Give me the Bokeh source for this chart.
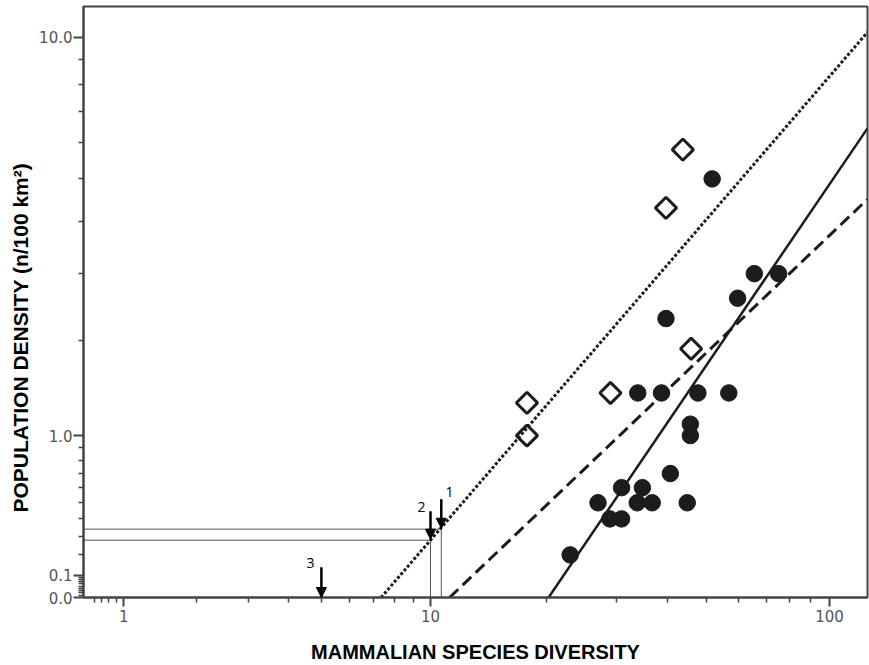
import numpy as np
from bokeh.plotting import figure
from bokeh.models import (FixedTicker, CustomJSTickFormatter, Range1d, Arrow,
                          NormalHead, Title, ColumnDataSource)
from bokeh.embed import file_html
from bokeh.resources import INLINE
from bokeh.core.properties import value

# ---------------- data ----------------
circle_x = [51.6, 39.7, 65.5, 75.1, 59.6, 33.8, 38.7, 47.6, 56.7, 45.6, 45.6,
            40.7, 30.8, 34.7, 26.9, 33.7, 36.7, 44.8, 28.8, 30.8, 22.9]
circle_y = [5.0, 2.3, 3.0, 3.0, 2.6, 1.4, 1.4, 1.4, 1.4, 1.1, 1.0,
            0.7, 0.6, 0.6, 0.5, 0.5, 0.5, 0.5, 0.4, 0.4, 0.2]

diamond_x = [43.7, 39.7, 45.8, 28.9, 17.8, 17.8]
diamond_y = [5.8, 4.3, 1.9, 1.4, 1.3, 1.0]

# regression lines (end points)
dotted_x = [7.36, 123.7]
dotted_y = [0.0, 10.24]
solid_x = [20.2, 123.7]
solid_y = [0.0, 6.45]
dashed_x = [11.23, 123.7]
dashed_y = [0.0, 4.50]

# guide lines
guide_x0 = [0.6, 0.6, 10.0, 10.68]
guide_y0 = [0.34, 0.278, 0.0, 0.0]
guide_x1 = [10.68, 10.0, 10.0, 10.68]
guide_y1 = [0.34, 0.278, 0.278, 0.34]

# arrows
arrow_x = [10.68, 10.0, 5.0]
arrow_y_start = [0.523, 0.447, 0.138]
arrow_y_end = [0.345, 0.283, 0.0]
arrow_text = ["1", "2", "3"]
arrow_text_x = [11.23, 9.47, 4.65]
arrow_text_y = [0.570, 0.472, 0.158]

# axes
x_major = [1, 10, 100]
x_minor = [0.7, 0.77, 0.84, 0.92, 2, 3, 4, 5, 6, 7, 8, 9,
           20, 30, 40, 50, 60, 70, 80, 90]
y_major = [0.0, 0.1, 1.0, 10.0]
y_minor = [0.01, 0.02, 0.03, 0.04, 0.05, 0.06, 0.07, 0.08, 0.09,
           0.2, 0.3, 0.4, 0.5, 0.6, 0.7, 0.8, 0.9,
           2, 3, 4, 5, 6, 7, 8, 9]
x_lo, x_hi = 0.6, 123.7
y_lo, y_hi = 0.0, 11.55

x_title = "MAMMALIAN SPECIES DIVERSITY"
y_title = "POPULATION DENSITY (n/100 km\u00b2)"


def tf(v):
    return np.log10(np.asarray(v, dtype=float) + 1.0)


INK = "#1c1c1c"
AXC = "#444444"

p = figure(width=869, height=665, output_backend="svg", toolbar_location=None,
           x_range=Range1d(float(tf(x_lo)), float(tf(x_hi))),
           y_range=Range1d(float(tf(y_lo)), float(tf(y_hi))),
           min_border_left=83, min_border_right=2, min_border_top=6,
           min_border_bottom=68)
p.xgrid.visible = False
p.ygrid.visible = False
p.outline_line_color = AXC
p.outline_line_width = 2
p.background_fill_color = "white"
p.border_fill_color = "white"

p.xaxis.ticker = FixedTicker(ticks=[float(t) for t in tf(x_major)],
                             minor_ticks=[float(t) for t in tf(x_minor)])
p.yaxis.ticker = FixedTicker(ticks=[float(t) for t in tf(y_major)],
                             minor_ticks=[float(t) for t in tf(y_minor)])
p.xaxis.formatter = CustomJSTickFormatter(
    code="return String(Math.round(Math.pow(10, tick) - 1));")
p.yaxis.formatter = CustomJSTickFormatter(
    code="return (Math.pow(10, tick) - 1).toFixed(1);")

for ax in (p.xaxis[0], p.yaxis[0]):
    ax.axis_line_color = AXC
    ax.axis_line_width = 2
    ax.major_tick_line_color = AXC
    ax.major_tick_line_width = 2
    ax.minor_tick_line_color = AXC
    ax.minor_tick_line_width = 1.5
    ax.major_tick_in = 0
    ax.minor_tick_in = 0
    ax.major_tick_out = 10
    ax.minor_tick_out = 5
    ax.major_label_text_font = "DejaVu Sans"
    ax.major_label_text_font_size = "15px"
    ax.major_label_text_color = "#555555"
p.yaxis.major_label_standoff = 1
p.xaxis.major_tick_out = 9
p.xaxis.major_label_standoff = 3

# x axis title
p.xaxis.axis_label = x_title
p.xaxis.axis_label_standoff = 16
p.xaxis.axis_label_text_font = "Liberation Sans"
p.xaxis.axis_label_text_font_style = "bold"
p.xaxis.axis_label_text_font_size = "20px"
p.xaxis.axis_label_text_color = "black"

# guide lines
gsrc = ColumnDataSource(dict(x0=tf(guide_x0), y0=tf(guide_y0),
                             x1=tf(guide_x1), y1=tf(guide_y1)))
p.segment("x0", "y0", "x1", "y1", source=gsrc, line_color="#555555", line_width=1)

# points
p.scatter(tf(circle_x), tf(circle_y), marker="circle", size=16.5,
          fill_color=INK, line_color=INK)
p.scatter(tf(diamond_x), tf(diamond_y), marker="square", angle=np.pi / 4,
          size=15, fill_color="white", line_color=INK, line_width=3)

# regression lines
p.line(tf(dotted_x), tf(dotted_y), line_color=INK, line_width=3, line_dash="3 2")
p.line(tf(solid_x), tf(solid_y), line_color=INK, line_width=2.5)
p.line(tf(dashed_x), tf(dashed_y), line_color=INK, line_width=3, line_dash="12 6")

# arrows
asrc = ColumnDataSource(dict(x=tf(arrow_x), ys=tf(arrow_y_start), ye=tf(arrow_y_end)))
p.add_layout(Arrow(end=NormalHead(size=10, fill_color="black", line_color="black"),
                   x_start="x", y_start="ys", x_end="x", y_end="ye", source=asrc,
                   line_color="black", line_width=2.5))
p.text(tf(arrow_text_x), tf(arrow_text_y), text=arrow_text,
       text_font=value("Open Sans"), text_font_size="14px", text_color="black",
       text_align="center", text_baseline="middle")

# y axis title
p.add_layout(Title(text=y_title, align="left", offset=85,
                   text_font="Liberation Sans", text_font_style="bold",
                   text_font_size="21px", text_color="black"), "left")

open("out.html", "w").write(file_html(p, INLINE))
